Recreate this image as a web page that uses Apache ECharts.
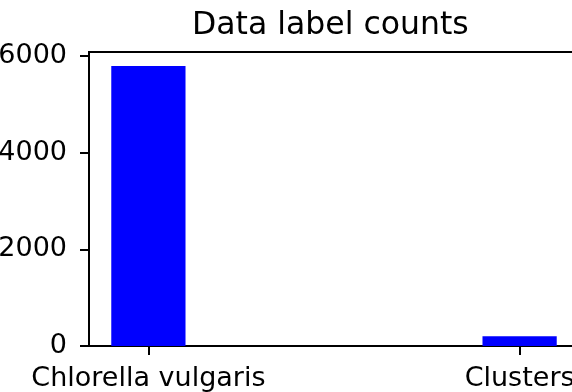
<!DOCTYPE html>
<html>
<head>
<meta charset="utf-8">
<script src="https://cdn.jsdelivr.net/npm/echarts@6/dist/echarts.min.js"></script>
<style>html,body{margin:0;padding:0;background:#fff}#c{width:572px;height:392px}</style>
</head>
<body>
<div id="c"></div>
<script>
const title = 'Data label counts';
const categories = ['Chlorella vulgaris', 'Clusters'];
const counts = [5790, 200];
const yTicks = [0, 2000, 4000, 6000];

const FONT = 'DejaVu Sans';
const chart = echarts.init(document.getElementById('c'), null, {renderer: 'canvas'});
const positions = categories.map((_, i) => i);
chart.setOption({
  animation: false,
  title: {
    text: title, left: 187, top: 5, padding: 5,
    textStyle: {fontFamily: FONT, fontSize: 31.5, fontWeight: 'normal', color: '#000'}
  },
  grid: {left: 89, top: 52, bottom: 46, right: -7, show: true, borderColor: '#000', borderWidth: 2,
    containLabel: false, outerBoundsMode: 'none'},
  xAxis: {
    type: 'value', min: -0.16, max: 1.16,
    splitLine: {show: false},
    axisLine: {show: true, onZero: false, lineStyle: {color: '#000', width: 2}},
    axisTick: {show: true, customValues: positions, length: 9, lineStyle: {color: '#000', width: 2}},
    axisLabel: {customValues: positions, margin: 19, fontFamily: FONT, fontSize: 27, color: '#000',
      formatter: v => categories[Math.round(v)]}
  },
  yAxis: {
    type: 'value', min: 0, max: Math.max(...counts) * 1.05,
    splitLine: {show: false},
    axisLine: {show: true, onZero: false, lineStyle: {color: '#000', width: 2}},
    axisTick: {show: true, customValues: yTicks, length: 9, lineStyle: {color: '#000', width: 2}},
    axisLabel: {customValues: yTicks, margin: 22, fontFamily: FONT, fontSize: 27, color: '#000',
      formatter: v => String(v)}
  },
  series: [{
    type: 'bar', barWidth: '20%',
    data: counts.map((v, i) => [positions[i], v]),
    itemStyle: {color: '#0000ff'}
  }]
});
</script>
</body>
</html>
